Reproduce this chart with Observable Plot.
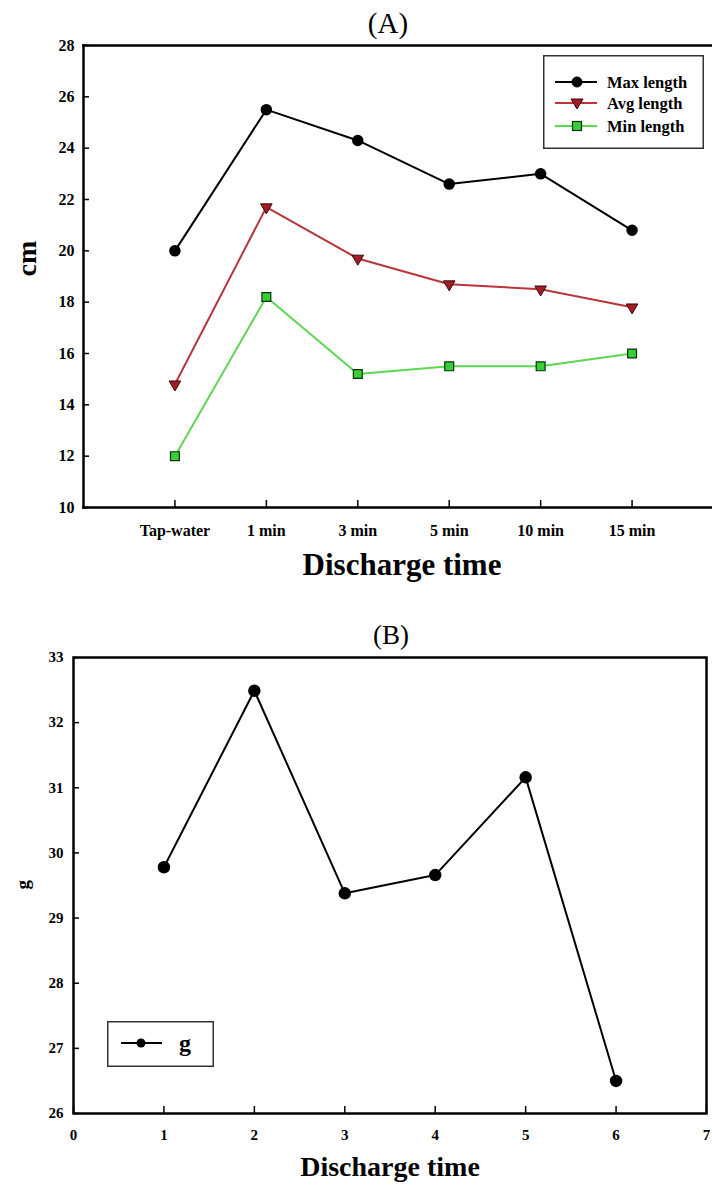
<!DOCTYPE html>
<html><head><meta charset="utf-8">
<script src="https://cdn.jsdelivr.net/npm/d3@7"></script>
<script src="https://cdn.jsdelivr.net/npm/@observablehq/plot@0.6"></script>
<style>
body{margin:0;overflow:hidden;background:#fff;}
#wrap{position:relative;width:712px;height:1189px;font-family:"Liberation Serif",serif;overflow:hidden;}
#wrap svg.plot{position:absolute;left:0;}
.title{position:absolute;width:200px;text-align:center;font-weight:normal;color:#000;z-index:2;}
.legend{position:absolute;z-index:2;}
</style></head>
<body><div id="wrap"></div>
<script>
// ---- Panel A data ----
const categoriesA = ["Tap-water", "1 min", "3 min", "5 min", "10 min", "15 min"];
const maxLength = [20.0, 25.5, 24.3, 22.6, 23.0, 20.8];
const avgLength = [14.8, 21.7, 19.7, 18.7, 18.5, 17.8];
const minLength = [12.0, 18.2, 15.2, 15.5, 15.5, 16.0];
const yTicksA = [10, 12, 14, 16, 18, 20, 22, 24, 26, 28];
const seriesNamesA = ["Max length", "Avg length", "Min length"];

// ---- Panel B data ----
const timesB = [1, 2, 3, 4, 5, 6];
const gramsB = [29.78, 32.49, 29.38, 29.66, 31.16, 26.50];
const xTicksB = [0, 1, 2, 3, 4, 5, 6, 7];
const yTicksB = [26, 27, 28, 29, 30, 31, 32, 33];

const FONT = "'Liberation Serif', 'Times New Roman', serif";
const wrap = document.getElementById("wrap");
const intFmt = d => String(d);

const toRows = vals => vals.map((v, i) => ({i, v}));
const maxRows = toRows(maxLength), avgRows = toRows(avgLength), minRows = toRows(minLength);

const plotA = Plot.plot({
  width: 712, height: 600,
  marginTop: 45, marginBottom: 93, marginLeft: 83, marginRight: 0,
  style: {fontFamily: FONT, fontWeight: "bold", color: "#000", background: "transparent"},
  x: {domain: [-1, categoriesA.length], range: [83, 723], label: null},
  y: {domain: [yTicksA[0], yTicksA[yTicksA.length - 1]], label: null},
  marks: [
    Plot.axisY({ticks: yTicksA, tickFormat: intFmt, tickSize: 6, dx: 6, tickPadding: 9, fontSize: 16, fontWeight: "bold", strokeWidth: 1.5, label: null}),
    Plot.axisX({ticks: d3.range(categoriesA.length), tickFormat: i => categoriesA[i], tickSize: 7, dy: -7, tickPadding: 17, fontSize: 16, fontWeight: "bold", strokeWidth: 1.5, label: null}),
    Plot.frame({anchor: "left", strokeWidth: 2.5}),
    Plot.frame({anchor: "top", strokeWidth: 2.5}),
    Plot.frame({anchor: "bottom", strokeWidth: 2.5}),
    Plot.line(maxRows, {x: "i", y: "v", stroke: "#000", strokeWidth: 2}),
    Plot.line(avgRows, {x: "i", y: "v", stroke: "#b8353b", strokeWidth: 2}),
    Plot.line(minRows, {x: "i", y: "v", stroke: "#5ed653", strokeWidth: 2}),
    Plot.dot(maxRows, {x: "i", y: "v", r: 5, fill: "#000", stroke: "#000"}),
    Plot.dot(avgRows, {x: "i", y: "v", symbol: "triangle", rotate: 180, r: 4.3, fill: "#a21d24", stroke: "#3a0a0c", strokeWidth: 1}),
    Plot.dot(minRows, {x: "i", y: "v", symbol: "square", r: 5, fill: "#36d036", stroke: "#0b300b", strokeWidth: 1.2}),
    Plot.text(["Discharge time"], {text: d => d, frameAnchor: "bottom", dy: 67, dx: 4, fontSize: 31, fontWeight: "bold"}),
    Plot.text(["cm"], {text: d => d, frameAnchor: "left", rotate: -90, dx: -56, fontSize: 28, fontWeight: "bold"})
  ]
});
plotA.style.top = "0px";
wrap.appendChild(plotA);

const plotB = Plot.plot({
  width: 712, height: 589,
  marginTop: 57, marginBottom: 76, marginLeft: 73, marginRight: 6,
  style: {fontFamily: FONT, fontWeight: "bold", color: "#000", background: "transparent"},
  x: {domain: [xTicksB[0], xTicksB[xTicksB.length - 1]], label: null},
  y: {domain: [yTicksB[0], yTicksB[yTicksB.length - 1]], label: null},
  marks: [
    Plot.axisY({ticks: yTicksB, tickFormat: intFmt, tickSize: 6, dx: 6, tickPadding: 10, fontSize: 15, fontWeight: "bold", strokeWidth: 1.5, label: null}),
    Plot.axisX({ticks: xTicksB, tickFormat: intFmt, tickSize: 7, dy: -7, tickPadding: 16, fontSize: 15, fontWeight: "bold", strokeWidth: 1.5, label: null}),
    Plot.frame({strokeWidth: 2.5}),
    Plot.line(timesB.map((t, k) => ({t, g: gramsB[k]})), {x: "t", y: "g", stroke: "#000", strokeWidth: 2}),
    Plot.dot(timesB.map((t, k) => ({t, g: gramsB[k]})), {x: "t", y: "g", r: 5.5, fill: "#000", stroke: "#000"}),
    Plot.text(["Discharge time"], {text: d => d, frameAnchor: "bottom", dy: 62, fontSize: 28, fontWeight: "bold"}),
    Plot.text(["g"], {text: d => d, frameAnchor: "left", rotate: -90, dx: -51, dy: 4, fontSize: 19, fontWeight: "bold"})
  ]
});
plotB.style.top = "600px";
wrap.appendChild(plotB);

// Titles
function addTitle(txt, cx, top, size) {
  const d = document.createElement("div");
  d.className = "title";
  d.textContent = txt;
  d.style.left = (cx - 100) + "px";
  d.style.top = top + "px";
  d.style.fontSize = size + "px";
  d.style.lineHeight = size + "px";
  wrap.appendChild(d);
}
addTitle("(A)", 388, 9, 29);
addTitle("(B)", 391, 622, 27);

// Legend A
const NS = "http://www.w3.org/2000/svg";
function el(tag, attrs, parent) {
  const e = document.createElementNS(NS, tag);
  for (const k in attrs) e.setAttribute(k, attrs[k]);
  if (parent) parent.appendChild(e);
  return e;
}
const legA = el("svg", {width: 161, height: 94, class: "legend"});
legA.style.left = "543px"; legA.style.top = "55px";
el("rect", {x: 0.75, y: 0.75, width: 159.5, height: 92.5, fill: "#fff", stroke: "#333", "stroke-width": 1.5}, legA);
const legStyles = [
  {stroke: "#000", strokeWidth: 2.2, sym: "circle", fill: "#000", sStroke: "#000"},
  {stroke: "#b8353b", strokeWidth: 2, sym: "tri", fill: "#a21d24", sStroke: "#3a0a0c"},
  {stroke: "#5ed653", strokeWidth: 2, sym: "square", fill: "#36d036", sStroke: "#0b300b"}
];
const legYs = [27, 48, 71];
seriesNamesA.forEach((name, k) => {
  const s = legStyles[k], y = legYs[k];
  el("line", {x1: 12, x2: 54, y1: y, y2: y, stroke: s.stroke, "stroke-width": s.strokeWidth}, legA);
  if (s.sym === "circle") el("circle", {cx: 34, cy: y, r: 5, fill: s.fill, stroke: s.sStroke}, legA);
  if (s.sym === "tri") el("path", {d: `M${34 - 6},${y - 4} L${34 + 6},${y - 4} L34,${y + 6} Z`, fill: s.fill, stroke: s.sStroke, "stroke-width": 1}, legA);
  if (s.sym === "square") el("rect", {x: 34 - 4.5, y: y - 4.5, width: 9, height: 9, fill: s.fill, stroke: s.sStroke, "stroke-width": 1.2}, legA);
  const t = el("text", {x: 64, y: y, "dominant-baseline": "central", "font-family": FONT, "font-weight": "bold", "font-size": 16.5, fill: "#000"}, legA);
  t.textContent = name;
});
wrap.appendChild(legA);

// Legend B
const legB = el("svg", {width: 107, height: 46, class: "legend"});
legB.style.left = "107px"; legB.style.top = "1021px";
el("rect", {x: 0.75, y: 0.75, width: 105.5, height: 44.5, fill: "#fff", stroke: "#333", "stroke-width": 1.5}, legB);
el("line", {x1: 14, x2: 55, y1: 22, y2: 22, stroke: "#000", "stroke-width": 2.2}, legB);
el("circle", {cx: 34, cy: 22, r: 4.5, fill: "#000"}, legB);
const tg = el("text", {x: 72, y: 22, "dominant-baseline": "central", "font-family": FONT, "font-weight": "bold", "font-size": 24, fill: "#000"}, legB);
tg.textContent = "g";
wrap.appendChild(legB);
</script>
</body></html>
